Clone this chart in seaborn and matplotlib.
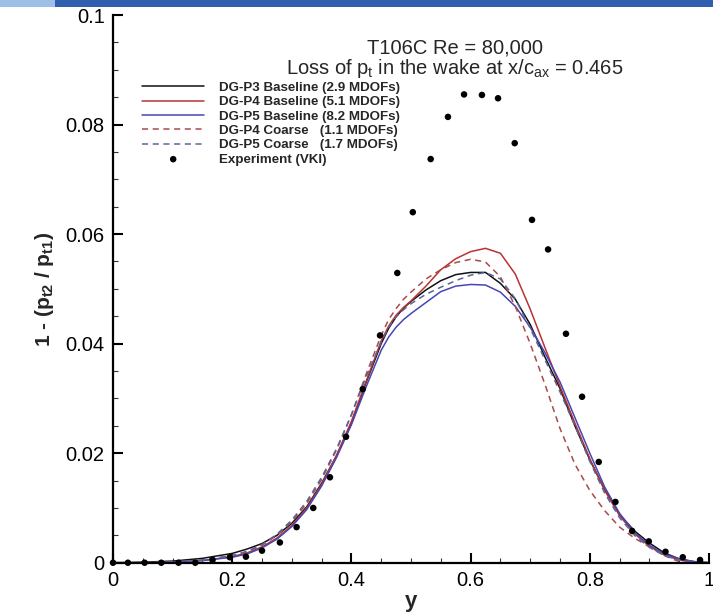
import numpy as np
import pandas as pd
import matplotlib
matplotlib.use("Agg")
import matplotlib.pyplot as plt
from matplotlib.patches import Rectangle
from matplotlib.ticker import MultipleLocator
import seaborn as sns

# ---------------- data ----------------
y_pos = [0.0, 0.05, 0.1, 0.15, 0.2, 0.225, 0.25, 0.275, 0.3, 0.325, 0.35, 0.375,
         0.4, 0.425, 0.45, 0.4625, 0.475, 0.4875, 0.5, 0.525, 0.55, 0.575, 0.6, 0.625,
         0.65, 0.675, 0.7, 0.725, 0.75, 0.775, 0.8, 0.825, 0.85, 0.875, 0.9, 0.925,
         0.95, 0.975, 1.0]

p3_base = [0, 0.0001, 0.0003, 0.0008, 0.0017, 0.0025, 0.0035, 0.0050, 0.0072, 0.0102,
           0.0145, 0.0195, 0.0255, 0.0330,
           0.0400, 0.0428, 0.0449, 0.0465, 0.0477,
           0.0498, 0.0515, 0.0526, 0.0530, 0.0530, 0.0510, 0.0481, 0.0435, 0.0375, 0.0318,
           0.0250, 0.0188, 0.0133, 0.0088, 0.0058, 0.0036, 0.0018, 0.0007, 0.0002, 0.0]
p4_base = [0, 0, 0.0001, 0.0004, 0.0011, 0.0018, 0.0029, 0.0045, 0.0068, 0.0100,
           0.0143, 0.0196, 0.0258, 0.0332,
           0.0405, 0.0432, 0.0452, 0.0466, 0.0478,
           0.0505, 0.0535, 0.0555, 0.0568, 0.0574, 0.0565, 0.0527, 0.0463, 0.0392, 0.0322,
           0.0255, 0.0190, 0.0132, 0.0086, 0.0053, 0.0030, 0.0014, 0.0005, 0.0001, 0.0]
p5_base = [0, 0, 0.0001, 0.0004, 0.0010, 0.0016, 0.0027, 0.0043, 0.0066, 0.0097,
           0.0140, 0.0192, 0.0252, 0.0322,
           0.0388, 0.0412, 0.0430, 0.0444, 0.0455,
           0.0475, 0.0495, 0.0505, 0.0508, 0.0507, 0.0494, 0.0468, 0.0430, 0.0383, 0.0330,
           0.0265, 0.0200, 0.0138, 0.0090, 0.0055, 0.0032, 0.0016, 0.0007, 0.0002, 0.0]
p4_coarse = [0, 0, 0.0001, 0.0005, 0.0013, 0.0020, 0.0032, 0.0050, 0.0075, 0.0108,
             0.0152, 0.0206, 0.0270, 0.0345,
             0.0415, 0.0444, 0.0464, 0.0481, 0.0494,
             0.0518, 0.0535, 0.0548, 0.0554, 0.0549, 0.0522, 0.0468, 0.0400, 0.0325, 0.0245,
             0.0180, 0.0132, 0.0095, 0.0065, 0.0045, 0.0029, 0.0013, 0.0002, 0.0, 0.0]
p5_coarse = [0, 0, 0.0001, 0.0005, 0.0013, 0.0021, 0.0033, 0.0052, 0.0078, 0.0112,
             0.0156, 0.0208, 0.0270, 0.0340,
             0.0403, 0.0430, 0.0449, 0.0462, 0.0473,
             0.0490, 0.0503, 0.0515, 0.0525, 0.0530, 0.0518, 0.0482, 0.0428, 0.0370, 0.0312,
             0.0250, 0.0185, 0.0127, 0.0082, 0.0050, 0.0028, 0.0013, 0.0005, 0.0001, 0.0]

exp_y = [0.0, 0.025, 0.053, 0.081, 0.110, 0.138, 0.167, 0.196, 0.223, 0.250, 0.280, 0.308,
         0.336, 0.364, 0.391, 0.419, 0.448, 0.477, 0.503, 0.533, 0.562, 0.589, 0.619, 0.646,
         0.674, 0.703, 0.730, 0.760, 0.787, 0.815, 0.843, 0.871, 0.899, 0.927, 0.956, 0.985]
exp_loss = [0, 0, 0, 0, 0, 0, 0.0005, 0.0010, 0.0011, 0.0022, 0.0037, 0.0065,
            0.0100, 0.0156, 0.0230, 0.0317, 0.0415, 0.0529, 0.0640, 0.0737, 0.0814, 0.0855,
            0.0854, 0.0848, 0.0766, 0.0626, 0.0572, 0.0418, 0.0303, 0.0184, 0.0111, 0.0058,
            0.0039, 0.0020, 0.0010, 0.0005]

labels = ["DG-P3 Baseline (2.9 MDOFs)", "DG-P4 Baseline (5.1 MDOFs)",
          "DG-P5 Baseline (8.2 MDOFs)", "DG-P4 Coarse   (1.1 MDOFs)",
          "DG-P5 Coarse   (1.7 MDOFs)", "Experiment (VKI)"]
x_ticks = [0, 0.2, 0.4, 0.6, 0.8, 1]
x_ticklabels = ["0", "0.2", "0.4", "0.6", "0.8", "1"]
y_ticks = [0, 0.02, 0.04, 0.06, 0.08, 0.1]
y_ticklabels = ["0", "0.02", "0.04", "0.06", "0.08", "0.1"]

# ---------------- style ----------------
sns.set_style("ticks")
plt.rcParams["font.family"] = ["Liberation Sans", "DejaVu Sans"]
plt.rcParams["mathtext.fontset"] = "custom"
plt.rcParams["mathtext.rm"] = "Liberation Sans"
plt.rcParams["mathtext.it"] = "Liberation Sans:italic"
plt.rcParams["mathtext.bf"] = "Liberation Sans:bold"

fig = plt.figure(figsize=(7.13, 6.15), dpi=100)
ax = fig.add_axes([0.1585, 0.0850, 0.8359, 0.8906])

# slide header strip at top
fig.patches.append(Rectangle((0, 1 - 7 / 615), 1, 7 / 615, transform=fig.transFigure,
                             facecolor="#2f5fae", edgecolor="none", zorder=0))
fig.patches.append(Rectangle((0, 1 - 7 / 615), 55 / 713, 7 / 615, transform=fig.transFigure,
                             facecolor="#9fc0e6", edgecolor="none", zorder=1))

series = [
    (p3_base, labels[0], "#111111", "-"),
    (p4_base, labels[1], "#b83232", "-"),
    (p5_base, labels[2], "#4646b4", "-"),
    (p4_coarse, labels[3], "#a84a4a", (0, (4, 3))),
    (p5_coarse, labels[4], "#5a6696", (0, (4, 3))),
]
for vals, lab, col, ls in series:
    df = pd.DataFrame({"y": y_pos, "loss": vals})
    sns.lineplot(data=df, x="y", y="loss", ax=ax, color=col, linestyle=ls,
                 linewidth=1.1, label=lab, sort=False)

dfe = pd.DataFrame({"y": exp_y, "loss": exp_loss})
sns.scatterplot(data=dfe, x="y", y="loss", ax=ax, color="black", s=22,
                edgecolor="none", label=labels[5], clip_on=False, zorder=5)

ax.set_xlim(0, 1)
ax.set_ylim(0, 0.1)
ax.set_xticks(x_ticks)
ax.set_xticklabels(x_ticklabels)
ax.set_yticks(y_ticks)
ax.set_yticklabels(y_ticklabels)
ax.xaxis.set_minor_locator(MultipleLocator(0.05))
ax.yaxis.set_minor_locator(MultipleLocator(0.005))
ax.tick_params(which="major", direction="in", length=7, width=1.5, labelsize=14.5,
               pad=6, colors="black")
ax.tick_params(which="minor", direction="in", length=3.5, width=0.8, colors="#333333")
for s in ["top", "right"]:
    ax.spines[s].set_visible(False)
for s in ["left", "bottom"]:
    ax.spines[s].set_linewidth(1.6)
    ax.spines[s].set_color("black")

ax.set_xlabel("y", fontsize=16, fontweight="bold", labelpad=1)
ax.set_ylabel(r"1 - (p$_{\mathbf{t2}}$ / p$_{\mathbf{t1}}$)", fontsize=15,
              fontweight="bold", labelpad=7)

ax.text(0.574, 0.940, "T106C Re = 80,000", transform=ax.transAxes,
        ha="center", va="center", fontsize=14.5)
ax.text(0.574, 0.902, r"Loss of p$_{\mathrm{t}}$ in the wake at x/c$_{\mathrm{ax}}$ = 0.465",
        transform=ax.transAxes, ha="center", va="center", fontsize=14.5)

leg = ax.legend(loc="upper left", bbox_to_anchor=(0.04, 0.888), frameon=False,
                prop={"weight": "bold", "size": 9.6}, handlelength=4.65,
                handletextpad=1.1, labelspacing=0.15, borderaxespad=0)

fig.savefig("out.png", dpi=100)
